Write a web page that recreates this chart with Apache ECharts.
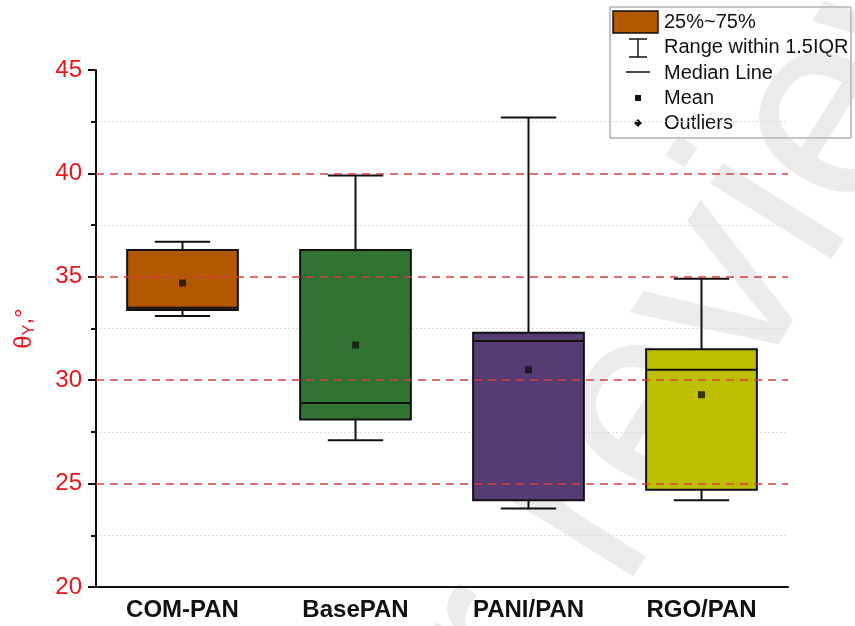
<!DOCTYPE html>
<html>
<head>
<meta charset="utf-8">
<script src="https://cdn.jsdelivr.net/npm/echarts@6/dist/echarts.min.js"></script>
<style>
  html, body { margin: 0; padding: 0; background: #fff; }
  #chart { width: 855px; height: 626px; }
</style>
</head>
<body>
<div id="chart"></div>
<script>
// Sample groups on the category axis
const categories = ['COM-PAN', 'BasePAN', 'PANI/PAN', 'RGO/PAN'];
// Box statistics per group (degrees)
const whiskerLow  = [33.1, 27.1, 23.8, 24.2];
const quartile1   = [33.4, 28.1, 24.2, 24.7];
const medians     = [33.5, 28.9, 31.9, 30.5];
const quartile3   = [36.3, 36.3, 32.3, 31.5];
const whiskerHigh = [36.7, 39.9, 42.7, 34.9];
const means       = [34.7, 31.7, 30.5, 29.3];
// Y axis range, tick step and dashed guide levels
const yMin = 20, yMax = 45, yStep = 5;
const guideLevels = [25, 30, 35, 40];

// Fill colour per group
const boxFills = ['#b25800', '#307333', '#553d73', '#bebe00'];
const FONT = '"Liberation Sans", Arial, Helvetica, sans-serif';
const RED = '#e8161c';

const boxData = categories.map((c, i) =>
  [i, whiskerLow[i], quartile1[i], medians[i], quartile3[i], whiskerHigh[i]]);
const meanData = categories.map((c, i) => [i, means[i]]);

function renderBox(params, api) {
  const idx = api.value(0);
  const pLow  = api.coord([idx, api.value(1)]);
  const pQ1   = api.coord([idx, api.value(2)]);
  const pMed  = api.coord([idx, api.value(3)]);
  const pQ3   = api.coord([idx, api.value(4)]);
  const pHigh = api.coord([idx, api.value(5)]);
  const band = api.size([1, 0])[0];
  const half = band * 0.32;
  const cap = band * 0.16;
  const cx = pQ1[0];
  const stroke = { stroke: '#111', lineWidth: 2 };
  return {
    type: 'group',
    children: [
      { type: 'line', shape: { x1: cx, y1: pHigh[1], x2: cx, y2: pQ3[1] }, style: stroke },
      { type: 'line', shape: { x1: cx, y1: pQ1[1], x2: cx, y2: pLow[1] }, style: stroke },
      { type: 'line', shape: { x1: cx - cap, y1: pHigh[1], x2: cx + cap, y2: pHigh[1] }, style: stroke },
      { type: 'line', shape: { x1: cx - cap, y1: pLow[1], x2: cx + cap, y2: pLow[1] }, style: stroke },
      { type: 'rect', shape: { x: cx - half, y: pQ3[1], width: half * 2, height: pQ1[1] - pQ3[1] },
        style: { fill: boxFills[params.dataIndex], stroke: '#111', lineWidth: 2 } },
      { type: 'line', shape: { x1: cx - half, y1: pMed[1], x2: cx + half, y2: pMed[1] }, style: stroke }
    ]
  };
}

// Legend box drawn in the top right corner
const LX = 610, LY = 7;
const legendText = (y, t) => ({
  type: 'text', x: 664, y: y,
  style: { text: t, font: '20px ' + FONT, fill: '#111', textVerticalAlign: 'middle' }
});
const legendGroup = {
  type: 'group', z: 50,
  children: [
    { type: 'rect', shape: { x: LX, y: LY, width: 241, height: 131 },
      style: { fill: 'none', stroke: '#8a8a8a', lineWidth: 1 } },
    { type: 'rect', shape: { x: 613, y: 11, width: 45, height: 22 },
      style: { fill: boxFills[0], stroke: '#111', lineWidth: 1.5 } },
    legendText(22, '25%~75%'),
    { type: 'line', shape: { x1: 638, y1: 39, x2: 638, y2: 57 }, style: { stroke: '#111', lineWidth: 1.5 } },
    { type: 'line', shape: { x1: 629, y1: 39, x2: 647, y2: 39 }, style: { stroke: '#111', lineWidth: 1.5 } },
    { type: 'line', shape: { x1: 629, y1: 57, x2: 647, y2: 57 }, style: { stroke: '#111', lineWidth: 1.5 } },
    legendText(47, 'Range within 1.5IQR'),
    { type: 'line', shape: { x1: 626, y1: 72, x2: 650, y2: 72 }, style: { stroke: '#111', lineWidth: 1.5 } },
    legendText(73, 'Median Line'),
    { type: 'rect', shape: { x: 635, y: 95, width: 6, height: 6 }, style: { fill: '#111' } },
    legendText(98, 'Mean'),
    { type: 'polygon', shape: { points: [[638, 119], [642, 123], [638, 127], [634, 123]] }, style: { fill: '#111' } },
    legendText(123, 'Outliers')
  ]
};

// Faint diagonal watermark across the plot
const wmStyle = { font: '270px ' + FONT, fill: 'rgba(195,195,195,0.33)', textVerticalAlign: 'middle' };
const watermark = {
  type: 'group', z: 100, silent: true,
  x: 560, y: 553, rotation: 58 * Math.PI / 180,
  children: [
    { type: 'text', x: 0, y: 0, style: Object.assign({ text: 'review', textAlign: 'left' }, wmStyle) },
    { type: 'text', x: -75, y: 0, style: Object.assign({ text: 'Peer', textAlign: 'right' }, wmStyle) }
  ]
};

const chart = echarts.init(document.getElementById('chart'), null, { renderer: 'canvas' });
chart.setOption({
  animation: false,
  backgroundColor: '#fff',
  grid: { left: 96, right: 67, top: 70, bottom: 39 },
  xAxis: {
    type: 'category', data: categories,
    axisLine: { onZero: false, lineStyle: { color: '#111', width: 2 } },
    axisTick: { alignWithLabel: true, length: 8, lineStyle: { color: '#111', width: 2 } },
    axisLabel: { color: '#111', fontSize: 24, fontWeight: 'bold', fontFamily: FONT, margin: 11 },
    splitLine: { show: false }
  },
  yAxis: {
    type: 'value', min: yMin, max: yMax, interval: yStep,
    name: '{t|θ}{s|Y}{t|,°}',
    nameLocation: 'middle', nameRotate: 90, nameGap: 58,
    nameTextStyle: {
      color: RED, fontFamily: FONT, fontSize: 24,
      rich: {
        t: { color: RED, fontFamily: FONT, fontSize: 24, lineHeight: 28 },
        s: { color: RED, fontFamily: FONT, fontSize: 16, lineHeight: 16, verticalAlign: 'bottom' }
      }
    },
    axisLine: { show: true, lineStyle: { color: '#111', width: 2 } },
    axisTick: { show: true, length: 8, lineStyle: { color: '#111', width: 2 } },
    minorTick: { show: true, splitNumber: 2, length: 5, lineStyle: { color: '#111', width: 2 } },
    axisLabel: { color: RED, fontSize: 24, fontFamily: FONT, margin: 14 },
    splitLine: { show: false },
    minorSplitLine: { show: true, lineStyle: { color: '#dadada', type: [2, 2], width: 1 } }
  },
  series: [
    {
      // carries the red dashed guide lines beneath the boxes
      type: 'line', name: 'guides', data: [], z: 1, silent: true,
      markLine: {
        silent: true, symbol: 'none', label: { show: false },
        lineStyle: { color: '#d8403f', type: [8, 6], width: 1.6 },
        data: guideLevels.map(v => ({ yAxis: v }))
      }
    },
    {
      type: 'custom', name: 'box', renderItem: renderBox,
      encode: { x: 0, y: [1, 2, 3, 4, 5] },
      data: boxData, z: 3
    },
    {
      type: 'scatter', name: 'mean', data: meanData,
      symbol: 'rect', symbolSize: 7, itemStyle: { color: '#111' }, z: 5
    }
  ],
  graphic: [legendGroup, watermark]
});
</script>
</body>
</html>
